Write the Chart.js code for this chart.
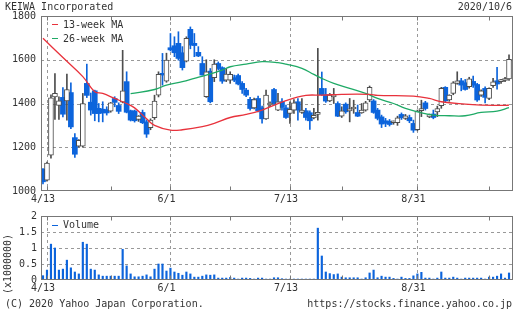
<!DOCTYPE html>
<html>
<head>
<meta charset="utf-8">
<script src="https://cdn.jsdelivr.net/npm/chart.js@4.4.1/dist/chart.umd.min.js"></script>
<style>
  body { margin: 0; background: #fff; }
  #wrap { position: relative; width: 515px; height: 312px; font-family: "DejaVu Sans Mono", monospace; font-size: 10px; color: #333; }
  .t { position: absolute; white-space: nowrap; line-height: 12px; }
  .dash { position: absolute; width: 6px; height: 1px; }
  canvas { position: absolute; left: 0; }
  #priceChart { top: 0; }
  #volChart { top: 200px; }
</style>
</head>
<body>
<div id="wrap">
  <canvas id="priceChart" width="515" height="210"></canvas>
  <canvas id="volChart" width="515" height="100"></canvas>
  <div class="t" style="left:5px;top:1px;">KEIWA Incorporated</div>
  <div class="t" style="right:3px;top:1px;">2020/10/6</div>
  <div class="dash" style="left:52px;top:24px;background:#e8323c;"></div>
  <div class="t" style="left:63px;top:19px;">13-week MA</div>
  <div class="dash" style="left:52px;top:38px;background:#1faa66;"></div>
  <div class="t" style="left:63px;top:33px;">26-week MA</div>
  <div class="dash" style="left:52px;top:225px;background:#0c64dc;"></div>
  <div class="t" style="left:63px;top:219px;">Volume</div>
  <div class="t" style="left:-22px;top:258px;transform:rotate(-90deg);">(x1000000)</div>
  <div class="t" style="left:5px;top:298px;">(C) 2020 Yahoo Japan Corporation.</div>
  <div class="t" style="right:3px;top:298px;">https://stocks.finance.yahoo.co.jp</div>
</div>
<script>
// daily candles, 2020/4/10 .. 2020/10/6 (index 0 = 4/10)
const openP = [1100,1049,1164,1430,1391,1428,1412,1450,1244,1205,
  1205,1492,1406,1458,1378,1374,1372,1365,1423,1391,
  1406,1500,1367,1366,1327,1359,1316,1290,1335,1438,
  1538,1502,1655,1664,1675,1632,1594,1739,1675,1634,
  1583,1431,1548,1518,1583,1564,1507,1507,1518,1528,
  1492,1461,1419,1380,1423,1380,1330,1393,1464,1370,
  1408,1380,1355,1370,1408,1359,1367,1358,1334,1350,
  1469,1440,1412,1430,1400,1342,1397,1366,1375,1359,
  1357,1370,1416,1412,1370,1339,1321,1319,1312,1312,
  1350,1332,1336,1309,1280,1367,1403,1339,1352,1362,
  1390,1474,1416,1446,1492,1504,1495,1477,1501,1487,
  1438,1469,1423,1481,1504,1500,1505,1512];
const highP = [1102,1132,1440,1537,1430,1473,1535,1495,1263,1235,
  1446,1580,1448,1461,1400,1408,1385,1405,1431,1403,
  1643,1545,1370,1370,1345,1370,1325,1330,1438,1545,
  1629,1630,1720,1705,1728,1660,1705,1750,1720,1660,
  1614,1600,1560,1600,1590,1568,1560,1545,1530,1535,
  1500,1469,1428,1425,1434,1388,1461,1408,1469,1446,
  1423,1393,1408,1418,1423,1423,1378,1367,1378,1652,
  1544,1469,1446,1469,1408,1385,1403,1423,1415,1393,
  1400,1410,1480,1418,1378,1347,1332,1327,1320,1342,
  1357,1350,1347,1324,1370,1415,1410,1352,1370,1388,
  1474,1477,1440,1500,1545,1515,1510,1520,1525,1492,
  1462,1476,1472,1515,1565,1510,1520,1622];
const lowP = [1032,1045,1150,1327,1327,1339,1324,1285,1153,1200,
  1200,1427,1347,1321,1316,1316,1347,1360,1385,1354,
  1403,1357,1320,1315,1318,1308,1245,1280,1327,1430,
  1484,1497,1640,1614,1598,1553,1590,1650,1614,1614,
  1530,1428,1403,1500,1553,1492,1500,1492,1500,1485,
  1446,1431,1370,1375,1362,1310,1327,1385,1393,1367,
  1370,1332,1309,1355,1324,1355,1324,1282,1330,1324,
  1437,1405,1408,1400,1340,1336,1355,1316,1355,1340,
  1355,1365,1408,1355,1325,1290,1294,1297,1305,1300,
  1327,1327,1312,1268,1275,1340,1370,1335,1330,1340,
  1378,1408,1410,1440,1488,1458,1461,1470,1474,1410,
  1432,1403,1418,1474,1466,1492,1500,1505];
const closeP = [1042,1128,1426,1446,1412,1351,1464,1293,1168,1232,
  1400,1437,1370,1354,1354,1357,1357,1403,1405,1364,
  1458,1360,1324,1321,1342,1312,1260,1324,1411,1533,
  1530,1599,1645,1632,1606,1564,1698,1667,1665,1617,
  1530,1545,1408,1580,1560,1502,1535,1533,1507,1489,
  1464,1438,1377,1418,1367,1330,1438,1400,1400,1408,
  1382,1336,1373,1403,1370,1370,1336,1321,1346,1355,
  1440,1411,1438,1440,1342,1367,1362,1370,1380,1342,
  1370,1403,1474,1359,1332,1306,1309,1304,1316,1335,
  1335,1344,1321,1278,1365,1377,1377,1349,1336,1377,
  1469,1412,1438,1495,1504,1484,1464,1513,1484,1416,
  1458,1428,1469,1499,1489,1507,1512,1602];
// volume in millions of shares
const volume = [0.135,0.31,1.12,1.0,0.31,0.34,0.62,0.38,0.25,0.19,
  1.18,1.12,0.34,0.31,0.16,0.12,0.12,0.12,0.12,0.12,
  0.96,0.44,0.19,0.10,0.10,0.12,0.16,0.10,0.34,0.50,
  0.50,0.28,0.37,0.25,0.21,0.15,0.25,0.19,0.09,0.09,
  0.12,0.16,0.15,0.16,0.06,0.06,0.06,0.08,0.06,0.03,
  0.06,0.06,0.05,0.03,0.06,0.06,0.03,0.03,0.07,0.07,
  0.04,0.03,0.03,0.03,0.03,0.03,0.03,0.03,0.03,1.62,
  0.75,0.25,0.20,0.17,0.19,0.09,0.07,0.07,0.07,0.07,
  0.03,0.07,0.22,0.31,0.07,0.12,0.09,0.09,0.05,0.03,
  0.09,0.05,0.05,0.13,0.19,0.24,0.06,0.06,0.03,0.06,
  0.25,0.06,0.06,0.09,0.06,0.03,0.06,0.06,0.06,0.06,
  0.06,0.03,0.09,0.09,0.12,0.19,0.06,0.22];

// moving averages (day index, price)
const ma13Day = [0,5,10,13,15,18,21,23,26,28,32,35,40,43,47,51,55,61,66,70,75,82,84,93,97,100,106,110,116,117];
const ma13Val = [1698,1610,1523,1454,1446,1423,1400,1380,1330,1300,1278,1280,1294,1309,1336,1350,1370,1413,1437,1438,1442,1442,1437,1434,1423,1408,1397,1393,1391,1393];
const ma26Day = [22,28,31,35,38,41,45,47,51,55,59,61,65,68,70,73,77,81,84,88,91,94,98,102,106,110,114,117];
const ma26Val = [1445,1464,1484,1500,1515,1530,1553,1568,1580,1591,1587,1580,1561,1533,1515,1492,1469,1446,1423,1400,1378,1362,1347,1344,1344,1359,1365,1381];

// x axis ticks (day index) and labels
const tickDays = [1, 17, 32, 47, 62, 75, 94, 112];
const tickLabels = ['4/13', '', '6/1', '', '7/13', '', '8/31', ''];

const UP = '#4d4d4d';
const DOWN = '#0c64dc';
const FONT = { family: '"DejaVu Sans Mono", monospace', size: 10 };

const wickUp = [], wickDn = [], bodyUp = [], bodyDn = [];
for (let i = 0; i < openP.length; i++) {
  const up = closeP[i] >= openP[i];
  (up ? wickUp : wickDn).push({ x: i, y: [lowP[i], highP[i]] });
  (up ? bodyUp : bodyDn).push({ x: i, y: [openP[i], closeP[i]] });
}

const panelDeco = {
  id: 'panelDeco',
  beforeDatasetsDraw(chart, args, opts) {
    const { ctx, chartArea: a, scales: { x, y } } = chart;
    ctx.save();
    ctx.strokeStyle = '#999';
    ctx.lineWidth = 1;
    ctx.setLineDash([3, 3]);
    opts.gridY.forEach(v => {
      const py = Math.round(y.getPixelForValue(v)) + 0.5;
      ctx.beginPath(); ctx.moveTo(a.left, py); ctx.lineTo(a.right, py); ctx.stroke();
    });
    tickDays.forEach((d, k) => {
      if (!tickLabels[k]) return;
      const px = Math.round(x.getPixelForValue(d)) + 0.5;
      ctx.beginPath(); ctx.moveTo(px, a.top); ctx.lineTo(px, a.bottom); ctx.stroke();
    });
    ctx.restore();
  },
  afterDatasetsDraw(chart) {
    const { ctx, chartArea: a, scales: { x } } = chart;
    ctx.save();
    ctx.strokeStyle = '#777';
    ctx.lineWidth = 1;
    const l = Math.round(a.left) + 0.5, r = Math.round(a.right) - 0.5;
    const t = Math.round(a.top) + 0.5, b = Math.round(a.bottom) - 0.5;
    ctx.strokeRect(l, t, r - l, b - t);
    tickDays.forEach(d => {
      const px = Math.round(x.getPixelForValue(d)) + 0.5;
      ctx.beginPath();
      ctx.moveTo(px, t); ctx.lineTo(px, t + 4);
      ctx.moveTo(px, b); ctx.lineTo(px, b - 4);
      ctx.stroke();
    });
    ctx.restore();
  }
};

function xScale(pad) {
  return {
    type: 'linear', min: -0.5, max: 118, offset: false,
    grid: { display: false, drawTicks: false },
    border: { display: false },
    afterBuildTicks: s => { s.ticks = tickDays.map(v => ({ value: v })); },
    afterFit: s => { s.height = pad; },
    ticks: {
      font: FONT, color: '#333', padding: 2, maxRotation: 0, autoSkip: false, labelOffset: -4,
      callback: (v) => tickLabels[tickDays.indexOf(v)] || ''
    }
  };
}

new Chart(document.getElementById('priceChart'), {
  type: 'bar',
  data: {
    datasets: [
      { type: 'line', data: ma13Day.map((d, k) => ({ x: d, y: ma13Val[k] })), borderColor: '#e8323c', borderWidth: 1.3, pointRadius: 0, tension: 0.4, order: 1 },
      { type: 'line', data: ma26Day.map((d, k) => ({ x: d, y: ma26Val[k] })), borderColor: '#1faa66', borderWidth: 1.3, pointRadius: 0, tension: 0.4, order: 1 },
      { data: bodyUp, backgroundColor: '#fff', borderColor: UP, borderWidth: 1, borderSkipped: false, barThickness: 5, minBarLength: 2, grouped: false, order: 2 },
      { data: bodyDn, backgroundColor: DOWN, borderWidth: 0, barThickness: 5, minBarLength: 1, grouped: false, order: 2 },
      { data: wickUp, backgroundColor: UP, barThickness: 1, grouped: false, order: 3 },
      { data: wickDn, backgroundColor: DOWN, barThickness: 1, grouped: false, order: 3 }
    ]
  },
  options: {
    responsive: false,
    animation: false,
    layout: { padding: { top: 16, right: 2, left: 0, bottom: 0 } },
    plugins: { legend: { display: false }, tooltip: { enabled: false }, panelDeco: { gridY: [1200, 1400, 1600] } },
    scales: {
      x: xScale(19),
      y: {
        min: 1000, max: 1800,
        ticks: { stepSize: 200, font: FONT, color: '#333', padding: 5, callback: v => String(v) },
        grid: { display: false, drawTicks: false },
        border: { display: false },
        afterFit: s => { s.width = 41; }
      }
    }
  },
  plugins: [panelDeco]
});

new Chart(document.getElementById('volChart'), {
  type: 'bar',
  data: {
    datasets: [
      { data: volume.map((v, i) => ({ x: i, y: v })), backgroundColor: DOWN, barThickness: 1.5, grouped: false }
    ]
  },
  options: {
    responsive: false,
    animation: false,
    layout: { padding: { top: 16, right: 2, left: 0, bottom: 0 } },
    plugins: { legend: { display: false }, tooltip: { enabled: false }, panelDeco: { gridY: [0.5, 1, 1.5] } },
    scales: {
      x: xScale(20),
      y: {
        min: 0, max: 2,
        ticks: { stepSize: 0.5, font: FONT, color: '#333', padding: 4, callback: v => String(v) },
        grid: { display: false, drawTicks: false },
        border: { display: false },
        afterFit: s => { s.width = 41; }
      }
    }
  },
  plugins: [panelDeco]
});
</script>
</body>
</html>
